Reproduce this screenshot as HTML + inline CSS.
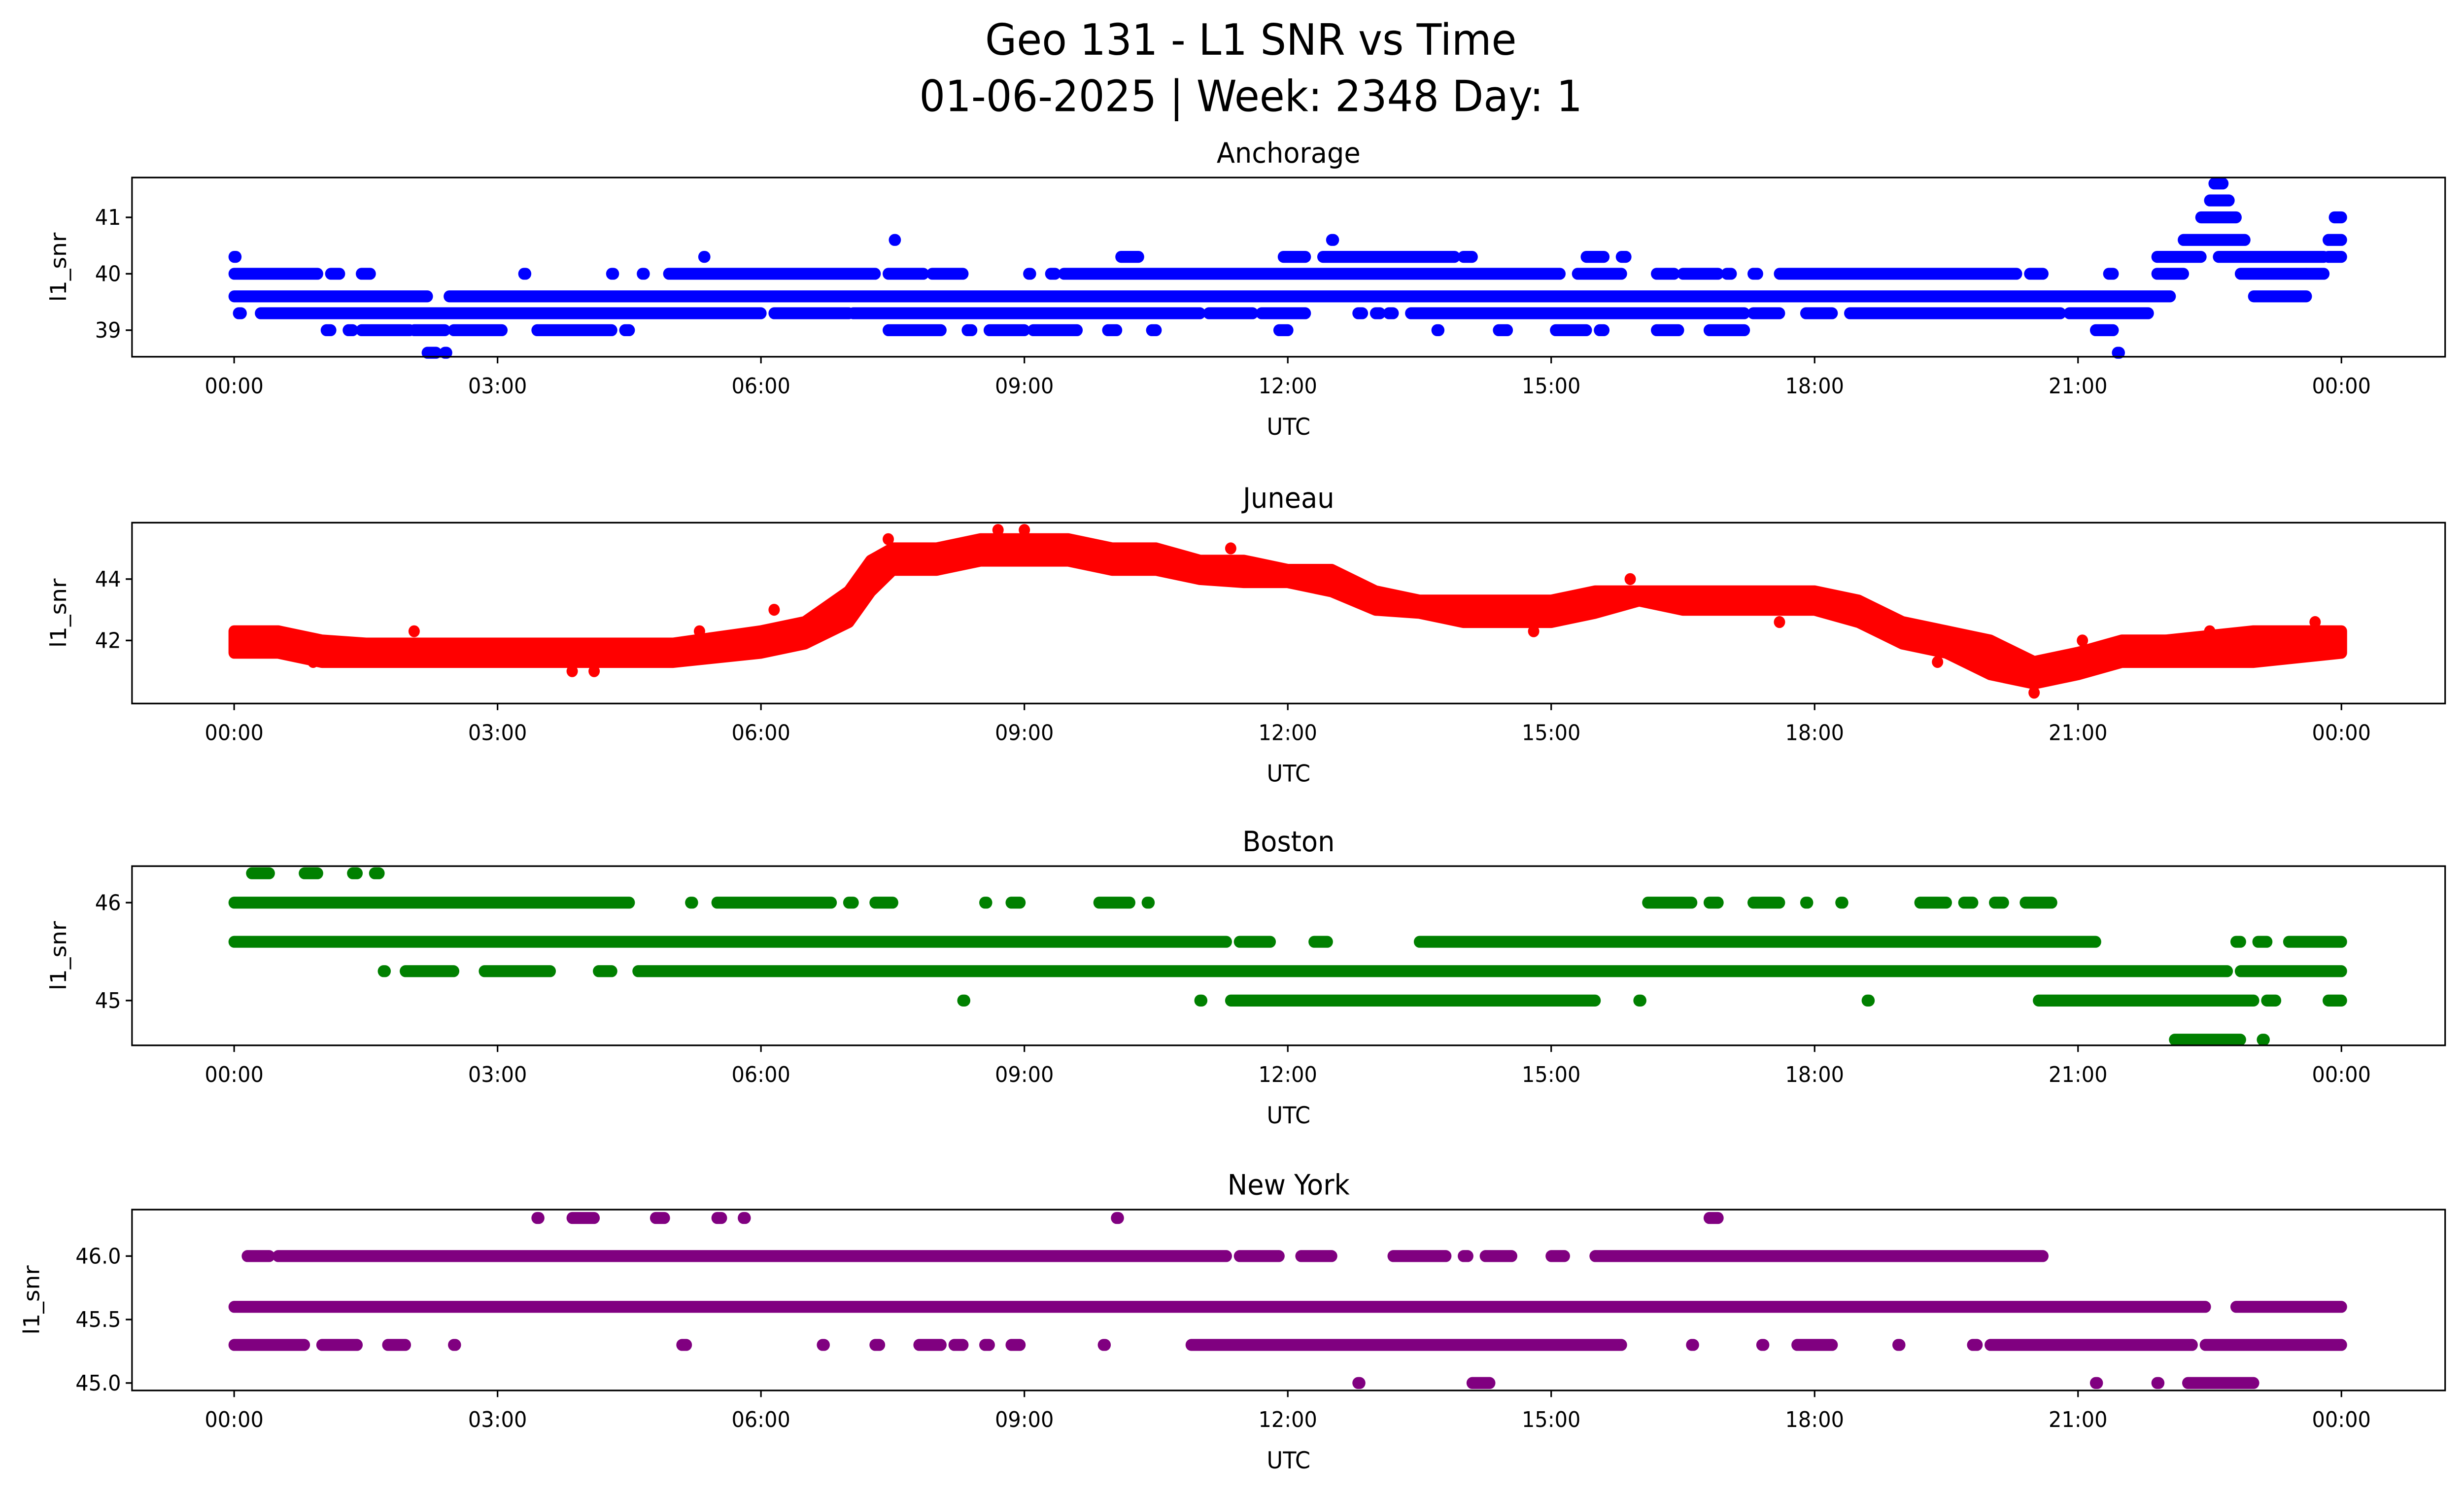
<!DOCTYPE html>
<html><head><meta charset="utf-8"><style>
html,body{margin:0;padding:0;background:#fff;overflow:hidden;width:100%;height:100%;}
svg{display:block;width:100vw;height:100vh;}
text{font-family:"DejaVu Sans","Liberation Sans",sans-serif;fill:#000;}
</style></head><body>
<svg id="fig" viewBox="0 0 1568 901" preserveAspectRatio="none" xmlns="http://www.w3.org/2000/svg">
<rect width="1568" height="901" fill="#fff"/>
<text x="796" y="33" font-size="26" text-anchor="middle">Geo 131 - L1 SNR vs Time</text>
<text x="796" y="67" font-size="26" text-anchor="middle">01-06-2025 | Week: 2348 Day: 1</text>
</svg>
<script>
// Anchorage: runs [startHour, endHour] per SNR level
const anchLevels = [41.6, 41.3, 41.0, 40.6, 40.3, 40.0, 39.6, 39.3, 39.0, 38.6];
const anchRuns = [
 [[22.55,22.65]],
 [[22.5,22.72]],
 [[22.4,22.8],[23.92,24]],
 [[7.52,7.53],[12.5,12.52],[22.2,22.9],[23.85,24]],
 [[0,0.02],[5.35,5.36],[10.1,10.3],[11.95,12.2],[12.4,13.9],[14.0,14.1],[15.4,15.6],[15.8,15.85],[21.9,22.4],[22.6,23.8],[23.85,24]],
 [[0,0.95],[1.1,1.2],[1.45,1.55],[3.3,3.32],[4.3,4.32],[4.65,4.67],[4.95,7.3],[7.45,7.85],[7.95,8.3],[9.05,9.07],[9.3,9.35],[9.45,15.1],[15.3,15.8],[16.2,16.4],[16.5,16.9],[17.0,17.05],[17.3,17.35],[17.6,20.3],[20.45,20.6],[21.35,21.4],[21.9,22.2],[22.85,23.6],[23.6,23.8]],
 [[0,2.2],[2.45,22.05],[23.0,23.6]],
 [[0.05,0.08],[0.3,6.0],[6.15,7.0],[7.05,11.0],[11.1,11.6],[11.7,12.2],[12.8,12.85],[13.0,13.05],[13.15,13.2],[13.4,17.2],[17.3,17.6],[17.9,18.2],[18.4,20.8],[20.9,21.8]],
 [[1.05,1.1],[1.3,1.35],[1.45,2.0],[2.05,2.4],[2.5,3.05],[3.45,4.3],[4.45,4.5],[7.45,8.05],[8.35,8.4],[8.6,9.0],[9.1,9.6],[9.95,10.05],[10.45,10.5],[11.9,12.0],[13.7,13.72],[14.4,14.5],[15.05,15.4],[15.55,15.6],[16.2,16.45],[16.8,17.2],[21.2,21.4]],
 [[2.2,2.3],[2.4,2.42],[21.45,21.47]]
];
// Juneau: band envelope by time
const junTimes = [0,0.5,1,1.5,2,3,4,5,6,6.5,7,7.25,7.5,8,8.5,9,9.5,10,10.5,11,11.5,12,12.5,13,13.5,14,15,15.5,16,16.5,17,17.5,18,18.5,19,19.5,20,20.5,21,21.5,22,23,24];
const junLow  = [41.6,41.6,41.3,41.3,41.3,41.3,41.3,41.3,41.6,41.9,42.6,43.6,44.3,44.3,44.6,44.6,44.6,44.3,44.3,44.0,43.9,43.9,43.6,43.0,42.9,42.6,42.6,42.9,43.3,43.0,43.0,43.0,43.0,42.6,41.9,41.6,40.9,40.6,40.9,41.3,41.3,41.3,41.6];
const junHigh = [42.3,42.3,42.0,41.9,41.9,41.9,41.9,41.9,42.3,42.6,43.6,44.6,45.0,45.0,45.3,45.3,45.3,45.0,45.0,44.6,44.6,44.3,44.3,43.6,43.3,43.3,43.3,43.6,43.6,43.6,43.6,43.6,43.6,43.3,42.6,42.3,42.0,41.3,41.6,42.0,42.0,42.3,42.3];
const junOutT = [6.15,8.7,9.0,15.9,2.05,3.85,20.5,7.45,11.35,22.5,23.7,0.9,4.1,5.3,14.8,17.6,19.4,21.05,22.9];
const junOutV = [43.0,45.6,45.6,44.0,42.3,41.0,40.3,45.3,45.0,42.3,42.6,41.3,41.0,42.3,42.3,42.6,41.3,42.0,41.6];
// Boston
const bosLevels = [46.3, 46.0, 45.6, 45.3, 45.0, 44.6];
const bosRuns = [
 [[0.2,0.4],[0.8,0.95],[1.35,1.4],[1.6,1.65]],
 [[0,4.5],[5.2,5.22],[5.5,6.8],[7.0,7.05],[7.3,7.5],[8.55,8.57],[8.85,8.95],[9.85,10.2],[10.4,10.42],[16.1,16.6],[16.8,16.9],[17.3,17.6],[17.9,17.92],[18.3,18.32],[19.2,19.5],[19.7,19.8],[20.05,20.15],[20.4,20.7]],
 [[0,11.3],[11.45,11.8],[12.3,12.45],[13.5,21.2],[22.8,22.85],[23.05,23.15],[23.4,24]],
 [[1.7,1.72],[1.95,2.5],[2.85,3.6],[4.15,4.3],[4.6,22.7],[22.85,24]],
 [[8.3,8.32],[11.0,11.02],[11.35,15.5],[16.0,16.02],[18.6,18.62],[20.55,23.0],[23.15,23.25],[23.85,24]],
 [[22.1,22.85],[23.1,23.12]]
];
// New York
const nyLevels = [46.3, 46.0, 45.6, 45.3, 45.0];
const nyRuns = [
 [[3.45,3.47],[3.85,4.1],[4.8,4.9],[5.5,5.55],[5.8,5.82],[10.05,10.07],[16.8,16.9]],
 [[0.15,0.4],[0.5,11.3],[11.45,11.9],[12.15,12.5],[13.2,13.8],[14.0,14.05],[14.25,14.55],[15.0,15.15],[15.5,20.6]],
 [[0,22.45],[22.8,24]],
 [[0,0.8],[1.0,1.4],[1.75,1.95],[2.5,2.52],[5.1,5.15],[6.7,6.72],[7.3,7.35],[7.8,8.05],[8.2,8.3],[8.55,8.6],[8.85,8.95],[9.9,9.92],[10.9,15.8],[16.6,16.62],[17.4,17.42],[17.8,18.2],[18.95,18.97],[19.8,19.85],[20.0,22.3],[22.45,24]],
 [[12.8,12.82],[14.1,14.3],[21.2,21.22],[21.9,21.92],[22.25,23.0]]
];
const xTickHours = [0,3,6,9,12,15,18,21,24];
const xTickLabels = ["00:00","03:00","06:00","09:00","12:00","15:00","18:00","21:00","00:00"];

const NS = "http://www.w3.org/2000/svg";
const svg = document.getElementById('fig');
function mk(tag, attrs, parent){const e=document.createElementNS(NS,tag);for(const k in attrs)e.setAttribute(k,attrs[k]);(parent||svg).appendChild(e);return e;}
const X0=149, X1=1490;
function xs(h){return X0+(X1-X0)*h/24;}
const R=3.6;

function panel(cfg){
  const g=mk('g',{});
  
  
  const ys=v=>cfg.yRef-(v-cfg.vRef)*cfg.ppu;
  const t=mk('text',{x:820,y:cfg.top-9,'font-size':17,'text-anchor':'middle'},g);
  t.textContent=cfg.title;
  
  
  const marks=mk('g',{fill:cfg.color,stroke:cfg.color},g);
  
  
  if(cfg.levels){
    cfg.levels.forEach((lv,i)=>{
      cfg.runs[i].forEach(r=>{
        const ln=mk('line',{x1:xs(r[0]),x2:xs(r[1]),y1:ys(lv),y2:ys(lv),'stroke-width':2*R,'stroke-linecap':'round'},marks);
        
        
      });
    });
  }
  if(cfg.band){
    let d='';
    cfg.band.t.forEach((tt,i)=>{d+=(i?'L':'M')+xs(tt)+' '+ys(cfg.band.hi[i]);});
    for(let i=cfg.band.t.length-1;i>=0;i--)d+='L'+xs(cfg.band.t[i])+' '+ys(cfg.band.lo[i]);
    const p=mk('path',{d:d+'Z','stroke-width':2*R,'stroke-linejoin':'round'},marks);
    
    
    cfg.band.ot.forEach((tt,i)=>{
      const c=mk('circle',{cx:xs(tt),cy:ys(cfg.band.ov[i]),r:R,stroke:'none'},marks);
      
      
    });
  }
  const fr=mk('rect',{x:84,y:cfg.top,width:1472,height:cfg.bottom-cfg.top,fill:'none',stroke:'#000','stroke-width':1},g);
  
  
  xTickHours.forEach((h,i)=>{
    mk('line',{x1:xs(h),x2:xs(h),y1:cfg.bottom,y2:cfg.bottom+4,stroke:'#000','stroke-width':1},g);
    const tl=mk('text',{x:xs(h),y:cfg.bottom+22,'font-size':13,'text-anchor':'middle'},g);
    tl.textContent=xTickLabels[i];
    
    
  });
  const xl=mk('text',{x:820,y:cfg.bottom+47,'font-size':14,'text-anchor':'middle'},g);
  xl.textContent='UTC';
  
  
  cfg.yTicks.forEach(v=>{
    mk('line',{x1:80,x2:84,y1:ys(v),y2:ys(v),stroke:'#000','stroke-width':1},g);
    const tl=mk('text',{x:77,y:ys(v)+4.5,'font-size':13,'text-anchor':'end'},g);
    tl.textContent=cfg.dec?v.toFixed(1):String(v);
    
    
  });
  const cy=(cfg.top+cfg.bottom)/2;
  const yl=mk('text',{x:cfg.ylx,y:cy,'font-size':14,'text-anchor':'middle',transform:`rotate(-90 ${cfg.ylx} ${cy})`},g);
  yl.textContent='l1_snr';
  
  
}
panel({name:'anchorage',title:'Anchorage',color:'#0000ff',top:107,bottom:215,yRef:165,vRef:40,ppu:34,yTicks:[39,40,41],ylx:42,levels:anchLevels,runs:anchRuns});
panel({name:'juneau',title:'Juneau',color:'#ff0000',top:315,bottom:424,yRef:349,vRef:44,ppu:18.5,yTicks:[42,44],ylx:42,band:{t:junTimes,lo:junLow,hi:junHigh,ot:junOutT,ov:junOutV}});
panel({name:'boston',title:'Boston',color:'#008000',top:522,bottom:630,yRef:544,vRef:46,ppu:59,yTicks:[45,46],ylx:42,levels:bosLevels,runs:bosRuns});
panel({name:'new-york',title:'New York',color:'#800080',top:729,bottom:838,yRef:757,vRef:46,ppu:76.5,yTicks:[45.0,45.5,46.0],dec:true,ylx:25,levels:nyLevels,runs:nyRuns});
</script>
</body></html>
